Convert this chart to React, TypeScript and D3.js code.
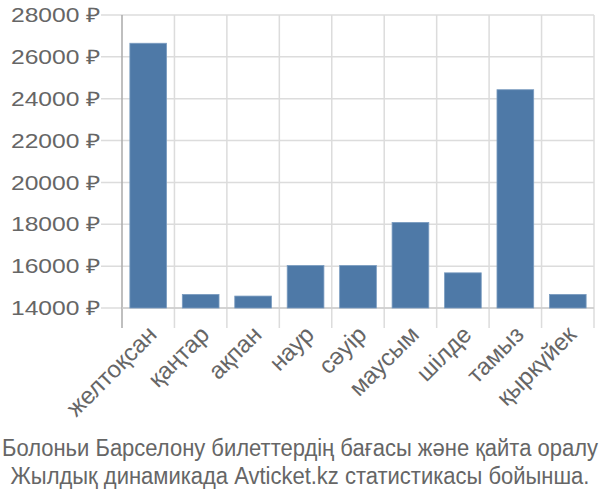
import React from "react";
import * as d3 from "d3";

const months = ["желтоқсан", "қаңтар", "ақпан", "наур", "сәуір", "маусым", "шілде", "тамыз", "қыркүйек"];
const prices = [26650, 14650, 14570, 16030, 16030, 18090, 15680, 24430, 14650];
const yTicks = [14000, 16000, 18000, 20000, 22000, 24000, 26000, 28000];
const titleLines = [
  "Болоньи Барселону билеттердің бағасы және қайта оралу",
  "Жылдық динамикада Avticket.kz статистикасы бойынша.",
];

const W = 600, H = 500;
const left = 122, right = 594, top = 15, bottom = 308;
const font = "'Liberation Sans', Arial, sans-serif";

export default function App() {
  const x = d3.scaleBand<string>().domain(months).range([left, right]).paddingInner(0.3).paddingOuter(0.15);
  const y = d3.scaleLinear().domain([14000, 28000]).range([bottom, top]);
  const step = x.step();
  return (
    <svg width={W} height={H} style={{ position: "absolute", left: 0, top: 0, background: "#fff" }}>
      {yTicks.map((t) => (
        <g key={t}>
          <line x1={101} x2={right} y1={y(t)} y2={y(t)} stroke="#dcdcdc" strokeWidth={1.5} />
          <text x={11} y={y(t)} dy="0.36em" textLength={90} lengthAdjust="spacingAndGlyphs" fontFamily={font} fontSize={20} fill="#666">
            {`${t} ₽`}
          </text>
        </g>
      ))}
      {months.map((m, i) => (
        <line key={m} x1={left + step * (i + 1)} x2={left + step * (i + 1)} y1={top} y2={328} stroke="#dcdcdc" strokeWidth={1.5} />
      ))}
      <line x1={left} x2={left} y1={top} y2={328} stroke="#aaa" strokeWidth={1.5} />
      <line x1={left} x2={right} y1={bottom} y2={bottom} stroke="#ccc" strokeWidth={1.5} />
      {months.map((m, i) => (
        <rect
          key={m}
          x={x(m)!}
          y={y(prices[i])}
          width={x.bandwidth()}
          height={bottom - y(prices[i])}
          fill="#4e79a7"
          stroke="#7a9cc0"
          strokeWidth={0.8}
        />
      ))}
      {months.map((m) => {
        const cx = x(m)! + x.bandwidth() / 2 + 10;
        const cy = 336;
        return (
          <text key={m} x={cx} y={cy} transform={`rotate(-45 ${cx} ${cy})`} textAnchor="end" fontFamily={font} fontSize={24} fill="#666">
            {m}
          </text>
        );
      })}
      {titleLines.map((t, i) => (
        <text
          key={i}
          x={0}
          y={0}
          transform={`translate(${W / 2}, ${455.5 + i * 28}) scale(1, 1.07)`}
          textAnchor="middle"
          fontFamily={font}
          fontSize={22}
          fill="#666"
        >
          {t}
        </text>
      ))}
    </svg>
  );
}
